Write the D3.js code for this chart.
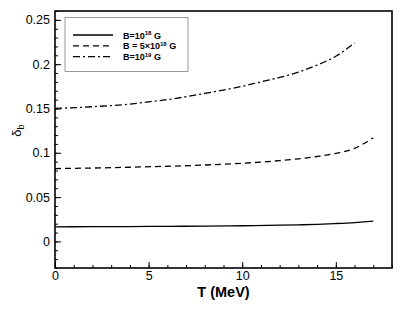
<!DOCTYPE html>
<html>
<head>
<meta charset="utf-8">
<script src="https://cdn.jsdelivr.net/npm/d3@7"></script>
<style>
  body { margin: 0; background: #fff; }
  text { font-family: Arial, "Liberation Sans", Helvetica, sans-serif; }
</style>
</head>
<body>
<div id="chart"></div>
<script>
// values
const T_weak = [0, 2, 4, 6, 8, 10, 12, 13, 14, 15, 16, 17];
const delta_weak = [0.0165, 0.0166, 0.0168, 0.017, 0.0173, 0.0177, 0.0183, 0.0187, 0.0193, 0.0202, 0.0213, 0.0228];

const T_mid = [0, 2, 4, 6, 8, 10, 11, 12, 13, 14, 15, 16, 17];
const delta_mid = [0.0822, 0.0828, 0.0837, 0.0848, 0.0862, 0.0882, 0.0895, 0.0912, 0.0932, 0.0958, 0.0993, 0.1050, 0.1170];

const T_strong = [0, 2, 4, 5, 6, 8, 10, 11, 12, 13, 14, 15, 16];
const delta_strong = [0.150, 0.152, 0.155, 0.1575, 0.160, 0.167, 0.175, 0.180, 0.185, 0.191, 0.199, 0.209, 0.224];

const legendLabels = [
    {pre: 'B=10', sup: '18', post: ' G', dash: null},
    {pre: 'B = 5\u00d710', sup: '18', post: ' G', dash: '6,4'},
    {pre: 'B=10', sup: '19', post: ' G', dash: '7,3,2,3'}
];

const xTicks = [0, 5, 10, 15];
const yTicks = [0, 0.05, 0.1, 0.15, 0.2, 0.25];

const W = 406, H = 310;
const margin = {left: 55, right: 14, top: 11, bottom: 42};

const svg = d3.select('#chart')
    .append('svg')
    .attr('width', W)
    .attr('height', H);

const x = d3.scaleLinear().domain([0, 18]).range([margin.left, W - margin.right]);
const y = d3.scaleLinear().domain([-0.03, 0.26]).range([H - margin.bottom, margin.top]);

// minor + major ticks, pointing inside the frame
const xAxis = svg.append('g')
    .attr('transform', `translate(0,${H - margin.bottom})`);
xAxis.call(d3.axisBottom(x).tickValues(d3.range(0, 19, 1)).tickSize(-3).tickFormat(''));
xAxis.append('g').call(d3.axisBottom(x).tickValues(xTicks).tickSize(-6).tickPadding(3).tickFormat(d3.format('d')));

const yAxis = svg.append('g')
    .attr('transform', `translate(${margin.left},0)`);
yAxis.call(d3.axisLeft(y).tickValues(d3.range(-3, 27, 1).map(d => d / 100)).tickSize(-3).tickFormat(''));
yAxis.append('g').call(d3.axisLeft(y).tickValues(yTicks).tickSize(-6).tickPadding(5).tickFormat(d => d === 0 ? '0' : String(d)));

svg.selectAll('.domain').remove();
svg.selectAll('.tick line').attr('stroke', '#000').attr('stroke-width', 1);
svg.selectAll('.tick text')
    .attr('font-size', 12.5)
    .attr('fill', '#000');

// frame
svg.append('rect')
    .attr('x', x(0))
    .attr('y', y(0.26))
    .attr('width', x(18) - x(0))
    .attr('height', y(-0.03) - y(0.26))
    .attr('fill', 'none')
    .attr('stroke', '#000')
    .attr('stroke-width', 1.6);

const line = d3.line()
    .x(d => x(d[0]))
    .y(d => y(d[1]))
    .curve(d3.curveMonotoneX);

const series = [
    {T: T_weak, v: delta_weak, dash: null},
    {T: T_mid, v: delta_mid, dash: '6,4'},
    {T: T_strong, v: delta_strong, dash: '7,3,2,3'}
];

svg.append('g').selectAll('path')
    .data(series)
    .enter()
    .append('path')
    .attr('d', d => line(d.T.map((t, i) => [t, d.v[i]])))
    .attr('fill', 'none')
    .attr('stroke', '#000')
    .attr('stroke-width', 1.3)
    .attr('stroke-dasharray', d => d.dash);

// legend
const legend = svg.append('g');
legend.append('rect')
    .attr('x', 65)
    .attr('y', 17.5)
    .attr('width', 123)
    .attr('height', 54)
    .attr('fill', '#fff')
    .attr('stroke', '#999')
    .attr('stroke-width', 1);

const rows = legend.selectAll('g.row')
    .data(legendLabels)
    .enter()
    .append('g')
    .attr('class', 'row')
    .attr('transform', (d, i) => `translate(0,${35 + i * 10.8})`);

rows.append('line')
    .attr('x1', 73).attr('x2', 113)
    .attr('stroke', '#000')
    .attr('stroke-width', 1.3)
    .attr('stroke-dasharray', d => d.dash);

const lt = rows.append('text')
    .attr('x', 123)
    .attr('y', 3.5)
    .attr('font-size', 9)
    .attr('font-weight', 'bold');
lt.append('tspan').text(d => d.pre);
lt.append('tspan').attr('dy', -3.5).attr('font-size', 6).text(d => d.sup);
lt.append('tspan').attr('dy', 3.5).text(d => d.post);

// axis titles
svg.append('text')
    .attr('x', x(9))
    .attr('y', 297)
    .attr('text-anchor', 'middle')
    .attr('font-size', 14.5)
    .attr('font-weight', 'bold')
    .text('T (MeV)');

const yl = svg.append('text')
    .attr('transform', `translate(21,${y(0.125)}) rotate(-90)`)
    .attr('text-anchor', 'middle')
    .attr('font-size', 13);
yl.append('tspan').text('\u03b4');
yl.append('tspan').attr('dy', 3).attr('font-size', 9).text('b');
</script>
</body>
</html>
